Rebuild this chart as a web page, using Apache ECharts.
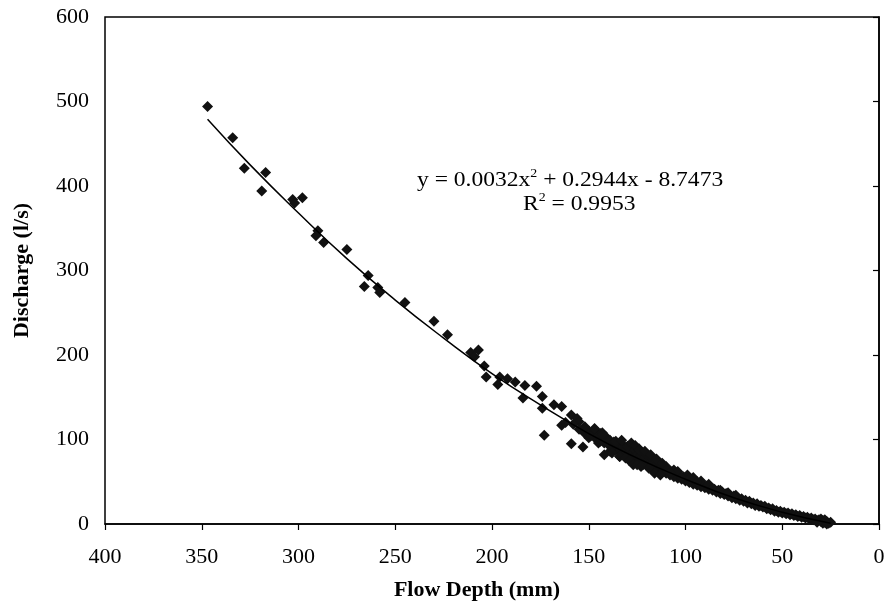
<!DOCTYPE html>
<html>
<head>
<meta charset="utf-8">
<script src="https://cdn.jsdelivr.net/npm/echarts@6/dist/echarts.min.js"></script>
<style>
html,body{margin:0;padding:0;background:#fff;}
#chart{width:889px;height:607px;}
</style>
</head>
<body>
<div id="chart"></div>
<script>
// Observed points: flow depth (mm) and discharge (l/s)
const depth = [
  347,334,328,317,319,303,298,302,290,291,287,275,264,266,259,258,245,230,223,211,207,209,204,203,196,197,192,188,183,177,184,174,174,173,168,164,164,159,156,155,159,153,152,148,144,141,142,
  150,149,147,146,145,144,143,142,141,140,139,138,137,136,135,134,133,132,131,130,129,128,127,126,125,124,123,122,121,120,
  119,118,117,116,115,114,113,112,111,110,109,108,107,106,105,104,103,102,101,100,99,98,97,96,95,94,93,92,91,90,
  89,88,87,86,85,84,83,82,81,80,79,78,77,76,75,74,73,72,71,70,69,68,67,66,65,64,63,62,61,60,
  59,58,57,56,55,54,53,52,51,50,49,48,47,46,45,44,43,42,41,40,39,38,37,36,35,34,33,32,31,30,
  29,28,27,26,25,30,28,32,29,27,
  136,132,127,124,120,118,122,117,113,110,106,104,99,96,92,88,139,134,129,125,
  138,136,134,133,131,130,129,128,127,126,125,124,123,121,119,118,116,115,113,112,
  162,158,155,152,150,147,145,143,108,102,98,94,86,82,78,74
];
const discharge = [
  494,457,421,416,394,384,386,380,347,341,333,325,294,281,280,274,262,240,224,203,206,198,187,174,174,165,172,168,164,163,149,151,137,105,141,139,117,129,125,121,95,91,107,109,107,103,82,
  110,104,112,100,105,98,108,96,101,94,99,90,97,88,93,86,95,84,90,80,87,82,92,78,84,75,82,76,79,72,
  76,68,73,66,70,63,68,62,66,60,64,58,62,56,60,54,58,53,56,51,54,49,52,47,50,46,48,44,47,43,
  45,41,43,40,41,38,40,36,38,35,36,33,34,31,33,30,31,28,30,27,28,25,27,24,25,22,24,21,22,20,
  21,18,19,17,18,15,16,14,15,13,14,12,13,11,12,10,11,9,10,8,9,7,8,6,7,5,6,4,5,3,
  4,2,3,1,2,6,5,2,1,0,
  96,92,90,89,82,80,70,64,72,68,64,62,58,55,51,47,86,80,78,72,
  84,98,80,99,78,92,75,96,70,93,70,88,68,86,66,82,60,77,58,72,
  120,118,112,115,102,113,96,106,61,55,54,50,42,40,37,34
];
// Trend line
const trendDepth = [347,325,300,275,250,225,200,175,150,125,100,75,50,25];
const trendQ = [479,425,368,314,265,220,178,141,107,78,53,31,14,1];
// Axis ticks
const xTicks = {min:0, max:400, step:50};
const yTicks = {min:0, max:600, step:100};

const pts = depth.map((d,i)=>[d, discharge[i]]);
const trend = trendDepth.map((d,i)=>[d, trendQ[i]]);

const chart = echarts.init(document.getElementById('chart'), null, {renderer:'canvas'});
const serif = '"Liberation Serif", "Times New Roman", serif';
const supStyle = {fontSize:13, verticalAlign:'bottom', padding:[0,0,13,0], fontFamily:serif, fill:'#000'};
chart.setOption({
  animation:false,
  backgroundColor:'#fff',
  grid:{left:105, right:10, top:17, bottom:83, show:true, borderColor:'#000', borderWidth:1.5, backgroundColor:'transparent'},
  xAxis:{
    type:'value', inverse:true, min:xTicks.min, max:xTicks.max, interval:xTicks.step,
    name:'Flow Depth (mm)', nameLocation:'middle', nameGap:55,
    nameTextStyle:{fontFamily:serif, fontSize:22, fontWeight:'bold', color:'#000', padding:[0,30,0,0]},
    axisLine:{show:true, onZero:false, lineStyle:{color:'#000', width:1.5}},
    axisTick:{show:true, length:6, lineStyle:{color:'#000', width:1.2}},
    axisLabel:{fontFamily:serif, fontSize:22, color:'#000', margin:22},
    splitLine:{show:false}
  },
  yAxis:{
    type:'value', min:yTicks.min, max:yTicks.max, interval:yTicks.step,
    name:'Discharge (l/s)', nameLocation:'middle', nameGap:72,
    nameTextStyle:{fontFamily:serif, fontSize:22, fontWeight:'bold', color:'#000'},
    axisLine:{show:true, lineStyle:{color:'#000', width:1.5}},
    axisTick:{show:true, length:6, lineStyle:{color:'#000', width:1.2}},
    axisLabel:{fontFamily:serif, fontSize:22, color:'#000', margin:16},
    splitLine:{show:false}
  },
  series:[
    {type:'scatter', data:pts, symbol:'diamond', symbolSize:11, itemStyle:{color:'#111', opacity:1}, z:2},
    {type:'line', data:trend, smooth:true, showSymbol:false, symbol:'none', lineStyle:{color:'#000', width:1.5}, z:3}
  ],
  graphic:[
    {type:'text', x:417, y:180, scaleX:1.07, style:{
      text:'y = 0.0032x{s|2} + 0.2944x - 8.7473',
      rich:{s:supStyle},
      fontFamily:serif, fontSize:22, fill:'#000', verticalAlign:'middle'}},
    {type:'text', x:523, y:204, scaleX:1.07, style:{
      text:'R{s|2} = 0.9953',
      rich:{s:supStyle},
      fontFamily:serif, fontSize:22, fill:'#000', verticalAlign:'middle'}}
  ]
});
</script>
</body>
</html>
